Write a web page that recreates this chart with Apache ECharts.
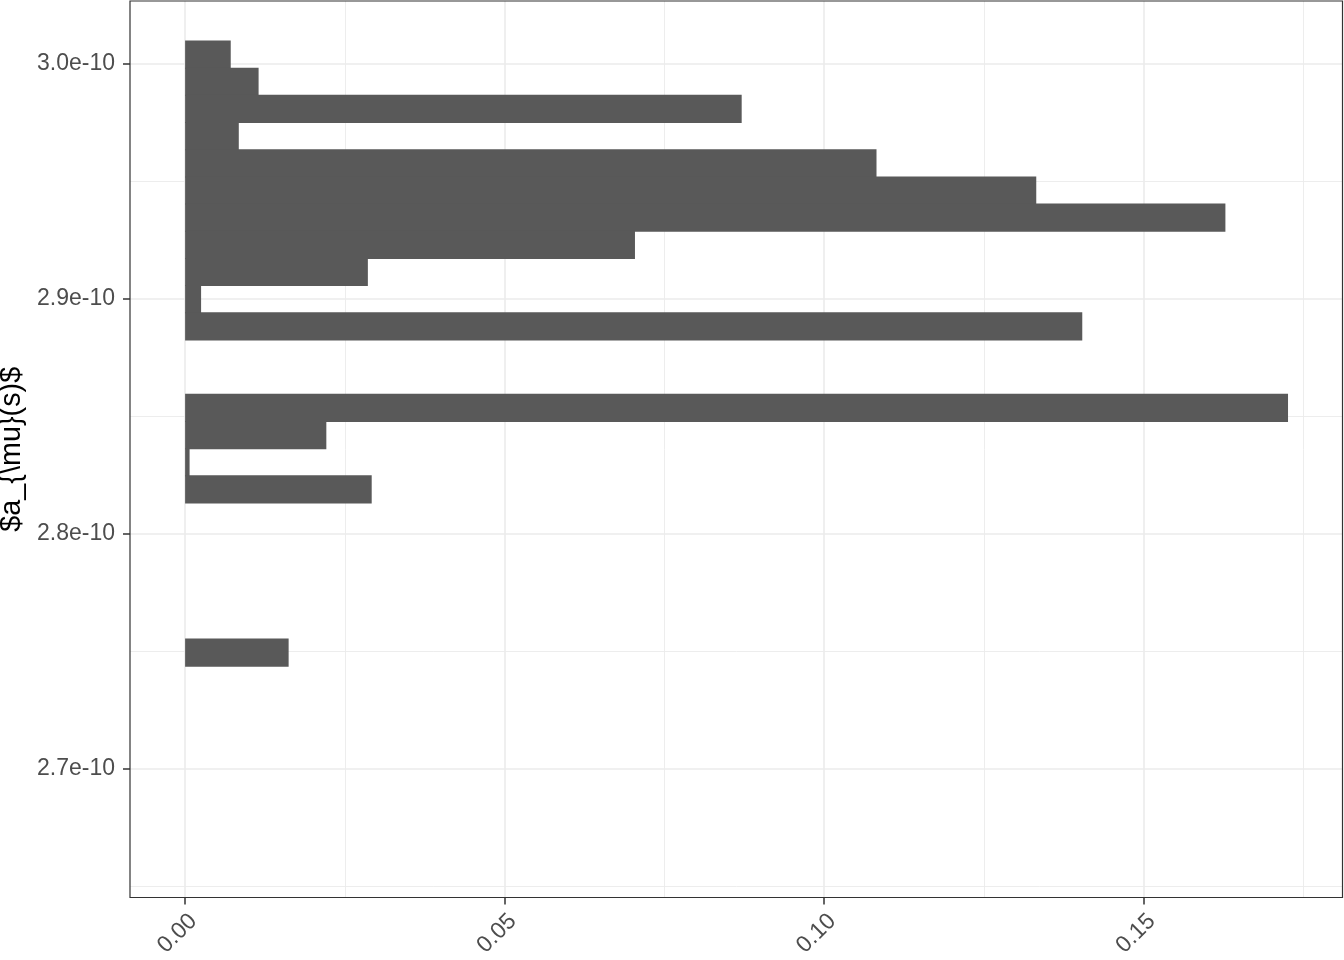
<!DOCTYPE html>
<html>
<head>
<meta charset="utf-8">
<script src="https://cdn.jsdelivr.net/npm/echarts@6/dist/echarts.min.js"></script>
<style>
html,body{margin:0;padding:0;background:#fff;}
#chart{width:1344px;height:960px;}
</style>
</head>
<body>
<div id="chart"></div>
<script>
// Histogram bins (upper and lower edges of each bin, top to bottom)
const binHigh = [3.00949e-10, 2.99792e-10, 2.98636e-10, 2.97479e-10, 2.96323e-10, 2.95166e-10, 2.94009e-10, 2.92853e-10, 2.91696e-10, 2.90540e-10, 2.89383e-10, 2.88227e-10, 2.87070e-10, 2.85913e-10, 2.84757e-10, 2.83600e-10, 2.82444e-10, 2.81287e-10, 2.80130e-10, 2.78974e-10, 2.77817e-10, 2.76661e-10, 2.75504e-10];
const binLow  = [2.99792e-10, 2.98636e-10, 2.97479e-10, 2.96323e-10, 2.95166e-10, 2.94009e-10, 2.92853e-10, 2.91696e-10, 2.90540e-10, 2.89383e-10, 2.88227e-10, 2.87070e-10, 2.85913e-10, 2.84757e-10, 2.83600e-10, 2.82444e-10, 2.81287e-10, 2.80130e-10, 2.78974e-10, 2.77817e-10, 2.76661e-10, 2.75504e-10, 2.74347e-10];
const density = [0.00714, 0.0115, 0.0871, 0.0084, 0.1082, 0.1332, 0.1628, 0.0704, 0.0286, 0.0025, 0.1404, 0, 0, 0.1726, 0.0221, 0.0007, 0.0292, 0, 0, 0, 0, 0, 0.0162];

const yMajorTicks = [2.7e-10, 2.8e-10, 2.9e-10, 3.0e-10];
const yMinorTicks = [2.65e-10, 2.75e-10, 2.85e-10, 2.95e-10];
const xMajorTicks = [0, 0.05, 0.10, 0.15];
const xMinorTicks = [0.025, 0.075, 0.125, 0.175];

const yRange = [2.64502e-10, 3.02651e-10];
const xRange = [-0.008625, 0.181125];
const yTitle = '$a_{\\mu}(s)$';

const histData = density.map((d, i) => [binLow[i], binHigh[i], d]);

const chart = echarts.init(document.getElementById('chart'), null, {renderer: 'canvas'});
const font = "'Liberation Sans', Arial, Helvetica, sans-serif";
const gridColor = '#EBEBEB';
const barColor = '#595959';

chart.setOption({
  animation: false,
  backgroundColor: '#ffffff',
  grid: {left: 130, top: 1, right: 1.5, bottom: 62.5, containLabel: false, outerBoundsMode: 'none',
         show: true, borderColor: '#333333', borderWidth: 1.2, backgroundColor: 'transparent', z: 10},
  xAxis: [
    {
      type: 'value', min: xRange[0], max: xRange[1],
      axisLine: {show: false, onZero: false},
      axisTick: {show: true, length: 7, lineStyle: {color: '#333333', width: 1.5}, customValues: xMajorTicks},
      axisLabel: {
        customValues: xMajorTicks, rotate: 45, margin: 12, color: '#4D4D4D',
        fontSize: 23, fontFamily: font, verticalAlign: 'top', align: 'right',
        formatter: v => v.toFixed(2)
      },
      splitLine: {show: true, lineStyle: {color: gridColor, width: 1.6}}
    },
    {
      type: 'value', min: xRange[0], max: xRange[1],
      axisLine: {show: false, onZero: false},
      axisTick: {show: false, customValues: xMinorTicks},
      axisLabel: {show: false, customValues: xMinorTicks},
      splitLine: {show: true, lineStyle: {color: gridColor, width: 0.9}}
    }
  ],
  yAxis: [
    {
      type: 'value', min: yRange[0], max: yRange[1],
      name: yTitle, nameLocation: 'middle', nameRotate: 90, nameGap: 98,
      nameTextStyle: {color: '#000000', fontSize: 28.8, fontFamily: font},
      axisLine: {show: false, onZero: false},
      axisTick: {show: true, length: 7, lineStyle: {color: '#333333', width: 1.5}, customValues: yMajorTicks},
      axisLabel: {
        customValues: yMajorTicks, margin: 15, color: '#4D4D4D', fontSize: 23, fontFamily: font,
        formatter: v => (v * 1e10).toFixed(1) + 'e-10'
      },
      splitLine: {show: true, lineStyle: {color: gridColor, width: 1.6}}
    },
    {
      type: 'value', min: yRange[0], max: yRange[1],
      axisLine: {show: false, onZero: false},
      axisTick: {show: false, customValues: yMinorTicks},
      axisLabel: {show: false, customValues: yMinorTicks},
      splitLine: {show: true, lineStyle: {color: gridColor, width: 0.9}}
    }
  ],
  series: [{
    type: 'custom',
    xAxisIndex: 0, yAxisIndex: 0,
    data: histData,
    encode: {x: 2, y: [0, 1]},
    renderItem: function (params, api) {
      const low = api.value(0), high = api.value(1), d = api.value(2);
      if (!(d > 0)) return null;
      const p0 = api.coord([0, high]);
      const p1 = api.coord([d, low]);
      return {
        type: 'rect',
        shape: {x: p0[0], y: p0[1] - 0.5, width: p1[0] - p0[0], height: p1[1] - p0[1] + 1},
        style: {fill: barColor}
      };
    }
  }]
});
</script>
</body>
</html>
